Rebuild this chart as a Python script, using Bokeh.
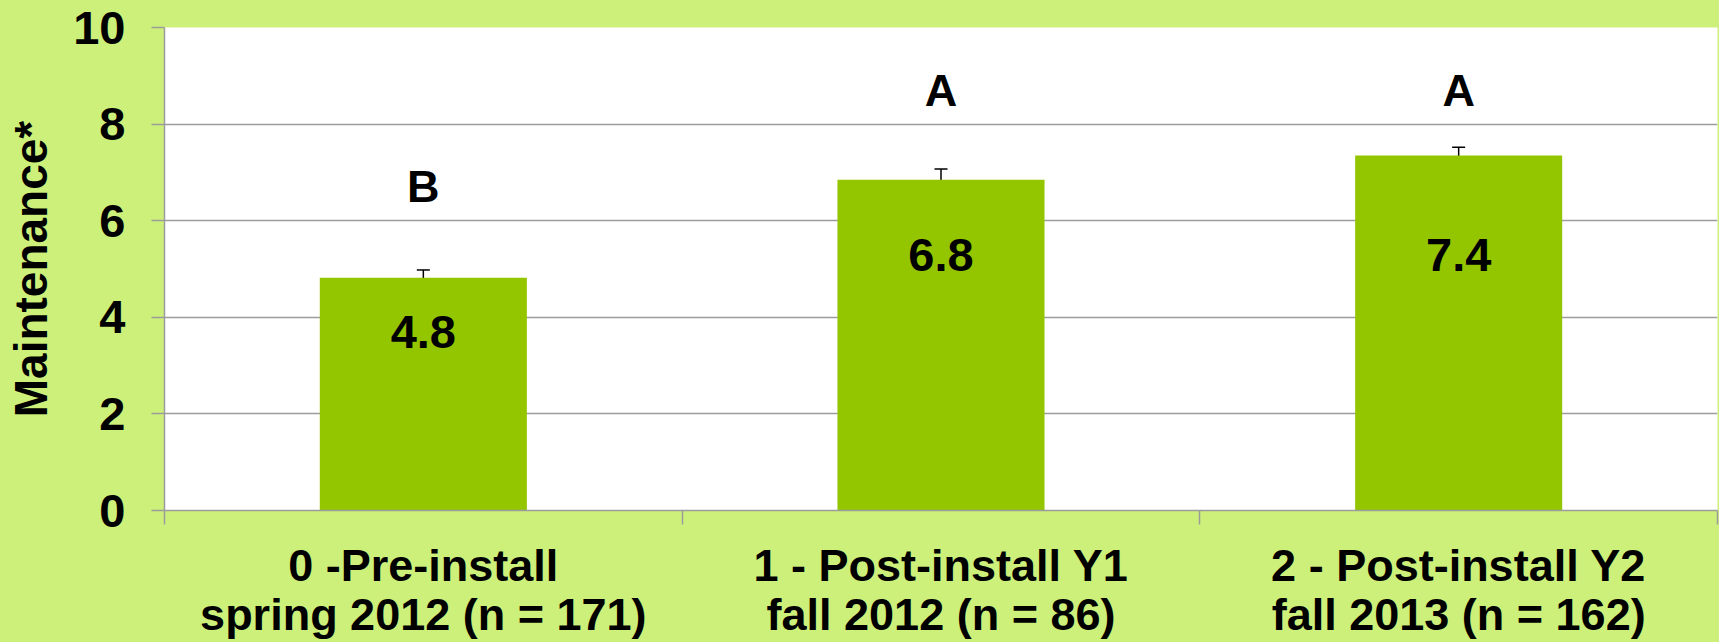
from bokeh.plotting import figure
from bokeh.models import Range1d, FixedTicker, ColumnDataSource, Whisker, TeeHead, LinearAxis
from bokeh.core.properties import value
from bokeh.embed import file_html
from bokeh.resources import INLINE

# ---- data ----
categories = ["0 -Pre-install", "1 - Post-install Y1", "2 - Post-install Y2"]
subtitles = ["spring 2012 (n = 171)", "fall 2012 (n = 86)", "fall 2013 (n = 162)"]
means = [4.82, 6.85, 7.35]
errors = [0.16, 0.22, 0.17]
value_labels = ["4.8", "6.8", "7.4"]
value_label_y = [3.7, 5.3, 5.3]
sig_letters = ["B", "A", "A"]
sig_letter_y = [6.7, 8.7, 8.7]
y_ticks = [0, 2, 4, 6, 8, 10]

BG = "#CCF07A"
BAR = "#94C600"
GRID = "#9C9C9C"
FONT = "Liberation Sans"

xpos = [i + 0.5 for i in range(len(categories))]
src = ColumnDataSource(dict(
    x=xpos, top=means,
    lower=[m - e for m, e in zip(means, errors)],
    upper=[m + e for m, e in zip(means, errors)],
    vlab=value_labels, vy=value_label_y,
    sig=sig_letters, sy=sig_letter_y,
))

p = figure(width=1719, height=642, output_backend="svg", toolbar_location=None,
           x_range=Range1d(0, len(categories)), y_range=Range1d(0, 10),
           min_border_left=164, min_border_right=2, min_border_top=27, min_border_bottom=0)
p.background_fill_color = "white"
p.border_fill_color = BG
p.outline_line_color = None

p.vbar(x="x", top="top", width=0.4, bottom=0, source=src, fill_color=BAR, line_color=None)

wh = Whisker(base="x", lower="lower", upper="upper", source=src,
             line_color="black", line_width=1.5,
             upper_head=TeeHead(size=13, line_color="black", line_width=1.5),
             lower_head=TeeHead(size=13, line_color="black", line_width=1.5))
p.add_layout(wh)

p.text(x="x", y="vy", text="vlab", source=src, text_align="center", text_baseline="middle",
       text_font=value(FONT), text_font_style="bold", text_font_size="47px", text_color="black")
p.text(x="x", y="sy", text="sig", source=src, text_align="center", text_baseline="middle",
       text_font=value(FONT), text_font_style="bold", text_font_size="45px", text_color="black")

# grid
p.xgrid.grid_line_color = None
p.ygrid.grid_line_color = GRID
p.ygrid.grid_line_width = 1.5
p.ygrid.ticker = FixedTicker(ticks=y_ticks)

# y axis
ya = p.yaxis[0]
ya.ticker = FixedTicker(ticks=y_ticks)
ya.axis_line_color = GRID
ya.axis_line_width = 1.5
ya.major_tick_line_color = GRID
ya.major_tick_line_width = 1.5
ya.major_tick_out = 13
ya.major_tick_in = 0
ya.minor_tick_line_color = None
ya.major_label_standoff = 26
ya.major_label_text_font = FONT
ya.major_label_text_font_style = "bold"
ya.major_label_text_font_size = "47px"
ya.major_label_text_color = "black"
ya.axis_label = "Maintenance*"
ya.axis_label_text_font = FONT
ya.axis_label_text_font_style = "bold"
ya.axis_label_text_font_size = "46px"
ya.axis_label_text_color = "black"
ya.axis_label_standoff = 13

def style_x(ax):
    ax.major_label_text_font = FONT
    ax.major_label_text_font_style = "bold"
    ax.major_label_text_font_size = "45px"
    ax.major_label_text_color = "black"
    ax.major_tick_line_color = None
    ax.major_tick_out = 0
    ax.major_tick_in = 0

# x axis: boundary ticks + first line of category labels
xa = p.xaxis[0]
xa.ticker = FixedTicker(ticks=xpos, minor_ticks=list(range(len(categories) + 1)))
xa.major_label_overrides = {x: c for x, c in zip(xpos, categories)}
style_x(xa)
xa.axis_line_color = GRID
xa.axis_line_width = 1.5
xa.minor_tick_line_color = GRID
xa.minor_tick_line_width = 1.5
xa.minor_tick_out = 14
xa.minor_tick_in = 0
xa.major_label_standoff = 15

# second line of category labels
xa2 = LinearAxis(ticker=FixedTicker(ticks=xpos, minor_ticks=[]),
                 major_label_overrides={x: s for x, s in zip(xpos, subtitles)})
style_x(xa2)
xa2.axis_line_color = None
xa2.minor_tick_line_color = None
xa2.major_label_standoff = -5
p.add_layout(xa2, "below")

html = file_html(p, INLINE)
html = html.replace("<head>", "<head><style>html,body{background:%s;}</style>" % BG, 1)
open("out.html", "w").write(html)
